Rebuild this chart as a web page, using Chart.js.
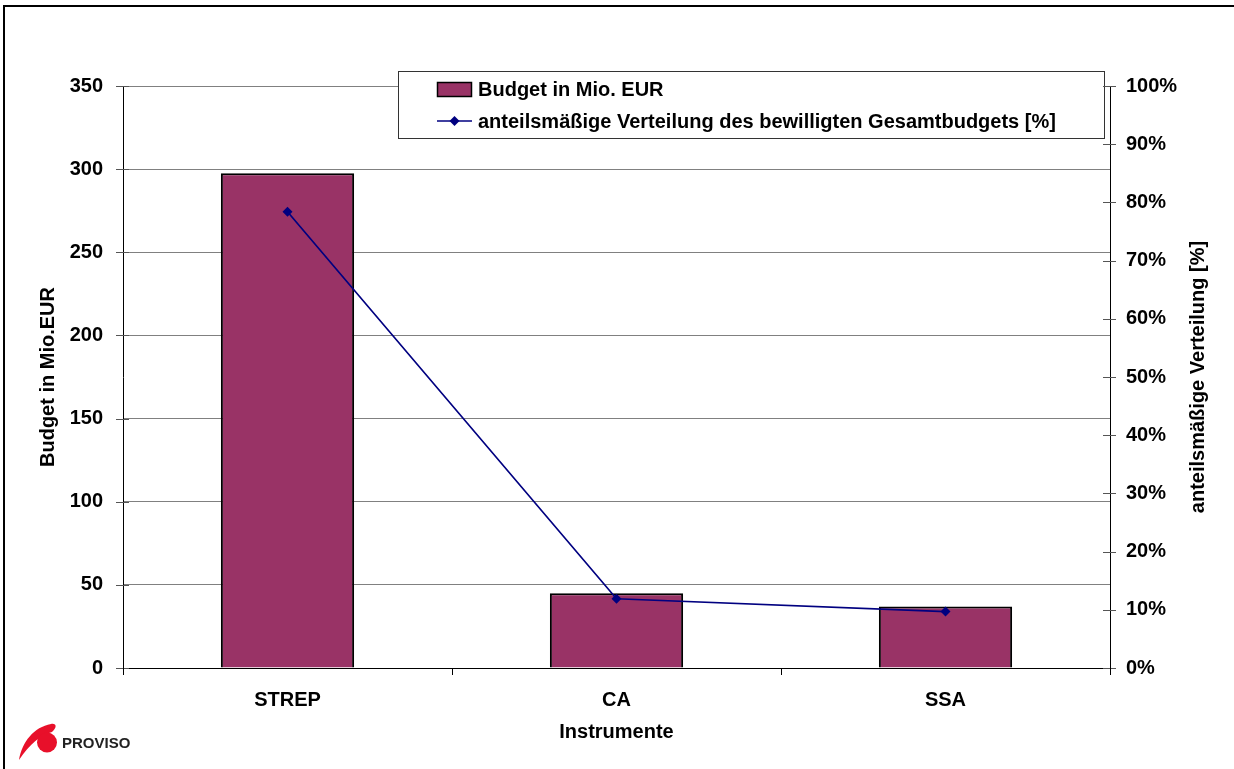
<!DOCTYPE html>
<html>
<head>
<meta charset="utf-8">
<script src="https://cdn.jsdelivr.net/npm/chart.js@4.4.1/dist/chart.umd.min.js"></script>
<style>
  html, body { margin: 0; padding: 0; background: #fff; }
  #wrap { position: relative; width: 1234px; height: 769px; overflow: hidden; }
  #c { position: absolute; left: 0; top: 0; }
  #frame { position: absolute; left: 3px; top: 5px; width: 1240px; height: 780px;
           border-top: 2px solid #000; border-left: 2px solid #000; pointer-events: none; }
  #logo { position: absolute; left: 14px; top: 718px; width: 140px; height: 44px; }
</style>
</head>
<body>
<div id="wrap">
  <canvas id="c" width="1234" height="769"></canvas>
  <div id="frame"></div>
  <svg id="logo" width="140" height="44" viewBox="0 0 140 44">
    <path d="M5 42 C8 24 20 9 37 6 C43 5 43 10 38 14 C26 17 16 26 5 42 Z" fill="#e8102a"/>
    <circle cx="33" cy="24.5" r="10" fill="#e8102a"/>
    <text x="48" y="30" font-family="Liberation Sans, Arial, sans-serif" font-weight="bold" font-size="15" fill="#222">PROVISO</text>
  </svg>
</div>
<script>
const categories = ['STREP', 'CA', 'SSA'];
const budgetMioEUR = [297.5, 45, 37];
const shareInPercent = [78.4, 11.9, 9.7];
const budgetTicks = [0, 50, 100, 150, 200, 250, 300, 350];
const percentTicks = [0, 10, 20, 30, 40, 50, 60, 70, 80, 90, 100];
const budgetLabel = 'Budget in Mio. EUR';
const shareLabel = 'anteilsmäßige Verteilung des bewilligten Gesamtbudgets [%]';
const leftTitle = 'Budget in Mio.EUR';
const rightTitle = 'anteilsmäßige Verteilung [%]';
const xTitle = 'Instrumente';

const FONT = 'Liberation Sans, Arial, sans-serif';
const FS = 20;

const crossTicks = {
  id: 'crossTicks',
  afterDraw(chart) {
    const ctx = chart.ctx;
    const y = chart.scales.y, y1 = chart.scales.y1;
    const area = chart.chartArea;
    ctx.save();
    ctx.lineWidth = 1;
    ctx.strokeStyle = '#555';
    budgetTicks.forEach(v => {
      const py = Math.round(y.getPixelForValue(v)) + 0.5;
      ctx.beginPath(); ctx.moveTo(area.left - 7, py); ctx.lineTo(area.left + 6, py); ctx.stroke();
    });
    percentTicks.forEach(v => {
      const py = Math.round(y1.getPixelForValue(v)) + 0.5;
      ctx.beginPath(); ctx.moveTo(area.right - 7, py); ctx.lineTo(area.right + 6, py); ctx.stroke();
    });
    ctx.strokeStyle = '#000';
    const n = categories.length;
    for (let i = 0; i <= n; i++) {
      const px = Math.round(area.left + (area.right - area.left) * i / n) + 0.5;
      ctx.beginPath(); ctx.moveTo(px, area.bottom); ctx.lineTo(px, area.bottom + 7); ctx.stroke();
    }
    ctx.fillStyle = '#000';
    ctx.font = 'bold ' + FS + 'px ' + FONT;
    ctx.textAlign = 'center';
    ctx.textBaseline = 'middle';
    ctx.translate(1198, (area.top + area.bottom) / 2);
    ctx.rotate(-Math.PI / 2);
    ctx.fillText(rightTitle, 0, 0);
    ctx.restore();
  }
};

const boxLegend = {
  id: 'boxLegend',
  afterDatasetsDraw(chart) {
    const ctx = chart.ctx;
    const ds = chart.data.datasets;
    const bar = ds.find(d => d.type === 'bar');
    const line = ds.find(d => d.type === 'line');
    ctx.save();
    ctx.fillStyle = '#fff';
    ctx.fillRect(398.5, 71.5, 706, 67);
    ctx.strokeStyle = '#333';
    ctx.lineWidth = 1;
    ctx.strokeRect(398.5, 71.5, 706, 67);
    ctx.fillStyle = bar.backgroundColor;
    ctx.fillRect(437.5, 82.5, 34, 14);
    ctx.strokeStyle = '#000';
    ctx.lineWidth = 1.5;
    ctx.strokeRect(437.5, 82.5, 34, 14);
    ctx.strokeStyle = line.borderColor;
    ctx.lineWidth = 1.5;
    ctx.beginPath(); ctx.moveTo(437, 121); ctx.lineTo(472, 121); ctx.stroke();
    ctx.fillStyle = line.borderColor;
    ctx.beginPath(); ctx.moveTo(454.5, 116); ctx.lineTo(459.5, 121); ctx.lineTo(454.5, 126); ctx.lineTo(449.5, 121); ctx.closePath(); ctx.fill();
    ctx.fillStyle = '#000';
    ctx.font = 'bold ' + FS + 'px ' + FONT;
    ctx.textAlign = 'left';
    ctx.textBaseline = 'middle';
    ctx.fillText(bar.label, 478, 90);
    ctx.fillText(line.label, 478, 122);
    ctx.restore();
  }
};

new Chart(document.getElementById('c'), {
  data: {
    labels: categories,
    datasets: [
      {
        type: 'bar',
        label: budgetLabel,
        data: budgetMioEUR,
        yAxisID: 'y',
        backgroundColor: '#993366',
        borderColor: '#000',
        borderWidth: 2,
        categoryPercentage: 1,
        barPercentage: 0.405,
        order: 1
      },
      {
        type: 'line',
        label: shareLabel,
        data: shareInPercent,
        yAxisID: 'y1',
        borderColor: '#000080',
        backgroundColor: '#000080',
        borderWidth: 1.7,
        pointStyle: 'rectRot',
        pointRadius: 5,
        pointBorderWidth: 0,
        tension: 0,
        order: 0
      }
    ]
  },
  options: {
    responsive: false,
    animation: false,
    devicePixelRatio: 1,
    layout: { padding: { top: 86, left: 0, right: 0, bottom: 0 } },
    plugins: { legend: { display: false }, tooltip: { enabled: false } },
    scales: {
      x: {
        offset: true,
        grid: { display: false, drawTicks: false },
        border: { display: true, color: '#000', width: 1 },
        ticks: { color: '#000', font: { family: FONT, size: FS, weight: 'bold' }, padding: 20 },
        title: { display: true, text: xTitle, color: '#000', font: { family: FONT, size: FS, weight: 'bold' }, padding: { top: 0, bottom: 25 } },
        afterFit(s) { s.height = 101; }
      },
      y: {
        position: 'left',
        min: 0, max: 350,
        afterBuildTicks(s) { s.ticks = budgetTicks.map(v => ({ value: v })); },
        grid: { display: true, color: '#808080', lineWidth: 1, drawTicks: false },
        border: { display: true, color: '#000', width: 1 },
        ticks: { color: '#000', font: { family: FONT, size: FS, weight: 'bold' }, padding: 20 },
        title: { display: true, text: leftTitle, color: '#000', font: { family: FONT, size: FS, weight: 'bold' }, padding: { top: 36, bottom: 0 } },
        afterFit(s) { s.width = 123; }
      },
      y1: {
        position: 'right',
        min: 0, max: 100,
        afterBuildTicks(s) { s.ticks = percentTicks.map(v => ({ value: v })); },
        grid: { display: false, drawTicks: false },
        border: { display: true, color: '#000', width: 1 },
        ticks: { color: '#000', font: { family: FONT, size: FS, weight: 'bold' }, padding: 16, callback: v => v + '%' },
        afterFit(s) { s.width = 124; }
      }
    }
  },
  plugins: [crossTicks, boxLegend]
});
</script>
</body>
</html>
